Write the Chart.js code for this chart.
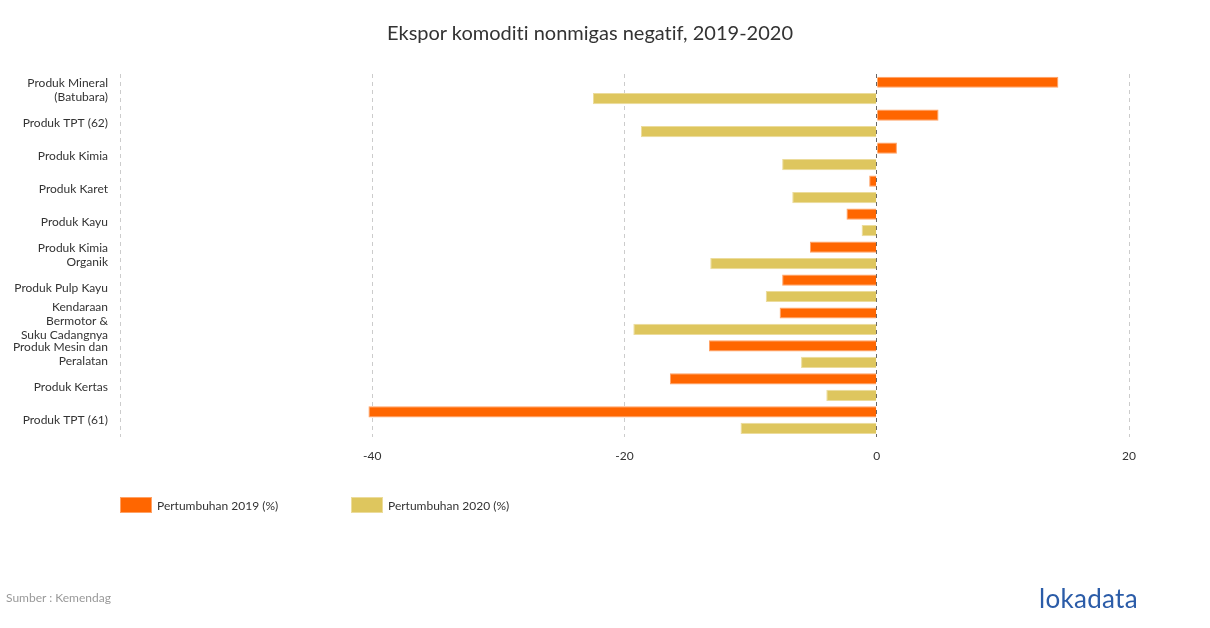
<!DOCTYPE html>
<html>
<head>
<meta charset="utf-8">
<script src="https://cdn.jsdelivr.net/npm/chart.js@4"></script>
<style>
  html, body { margin: 0; padding: 0; background: #fff; font-family: Lato, sans-serif; font-variant-ligatures: none; }
  #wrap { position: relative; width: 1210px; height: 628px; }
  #chart { position: absolute; left: 0; top: 0; }
  .title { position: absolute; top: 20px; left: 340px; width: 500px; text-align: center; font-size: 20px; color: #333; white-space: nowrap; }
  .legend { position: absolute; top: 497px; font-size: 12px; color: #333; display: flex; align-items: center; }
  .legend span.box { display: inline-block; width: 30px; height: 14px; margin-right: 5px; }
  .source { position: absolute; left: 6px; top: 590px; font-size: 12px; color: #999; }
  .logo { position: absolute; left: 1039px; top: 582px; font-size: 26px; color: #2b5ca8; letter-spacing: 0.3px; }
</style>
</head>
<body>
<div id="wrap">
  <canvas id="chart" width="1210" height="628"></canvas>
  <div class="title">Ekspor komoditi nonmigas negatif, 2019-2020</div>
  <div class="legend" style="left:120px"><span class="box" style="background:#ff6600;border:1px solid #ffa266"></span>Pertumbuhan 2019 (%)</div>
  <div class="legend" style="left:351px"><span class="box" style="background:#dec65e;border:1px solid #ecdc9c"></span>Pertumbuhan 2020 (%)</div>
  <div class="source">Sumber : Kemendag</div>
  <div class="logo">lokadata</div>
</div>
<script>
var categories = [
  ["Produk Mineral", "(Batubara)"],
  "Produk TPT (62)",
  "Produk Kimia",
  "Produk Karet",
  "Produk Kayu",
  ["Produk Kimia", "Organik"],
  "Produk Pulp Kayu",
  ["Kendaraan", "Bermotor &", "Suku Cadangnya"],
  ["Produk Mesin dan", "Peralatan"],
  "Produk Kertas",
  "Produk TPT (61)"
];
var growth2019 = [14.4, 4.9, 1.6, -0.6, -2.4, -5.3, -7.5, -7.7, -13.3, -16.4, -40.3];
var growth2020 = [-22.5, -18.7, -7.5, -6.7, -1.2, -13.2, -8.8, -19.3, -6.0, -4.0, -10.8];
var xTicks = [-60, -40, -20, 0, 20];

new Chart(document.getElementById("chart"), {
  type: "bar",
  data: {
    labels: categories,
    datasets: [{
      label: "Pertumbuhan 2019 (%)",
      data: growth2019,
      backgroundColor: "#ff6600",
      borderColor: "#ffa266",
      borderWidth: 1,
      barPercentage: 0.68,
      categoryPercentage: 1
    }, {
      label: "Pertumbuhan 2020 (%)",
      data: growth2020,
      backgroundColor: "#dec65e",
      borderColor: "#ecdc9c",
      borderWidth: 1,
      barPercentage: 0.68,
      categoryPercentage: 1
    }]
  },
  options: {
    indexAxis: "y",
    responsive: false,
    animation: false,
    layout: {
      padding: { top: 74, right: 81, bottom: 153, left: 0 }
    },
    plugins: {
      legend: { display: false },
      tooltip: { enabled: false }
    },
    scales: {
      x: {
        min: -60,
        max: 20,
        afterBuildTicks: function(axis) {
          axis.ticks = xTicks.map(function(v) { return { value: v }; });
        },
        border: { display: false, dash: [4, 4] },
        grid: {
          drawTicks: false,
          color: function(ctx) {
            return ctx.tick && ctx.tick.value === 0 ? "#666" : "#ccc";
          }
        },
        ticks: {
          padding: 12,
          color: "#333",
          font: { family: "Lato", size: 12 },
          callback: function(value) {
            return value === -60 ? "" : value;
          }
        }
      },
      y: {
        afterFit: function(scale) { scale.width = 120; },
        border: { display: false },
        grid: { display: false, drawTicks: false },
        ticks: {
          autoSkip: false,
          padding: 12,
          color: "#333",
          font: { family: "Lato", size: 12, lineHeight: 1.17 }
        }
      }
    }
  }
});
</script>
</body>
</html>
